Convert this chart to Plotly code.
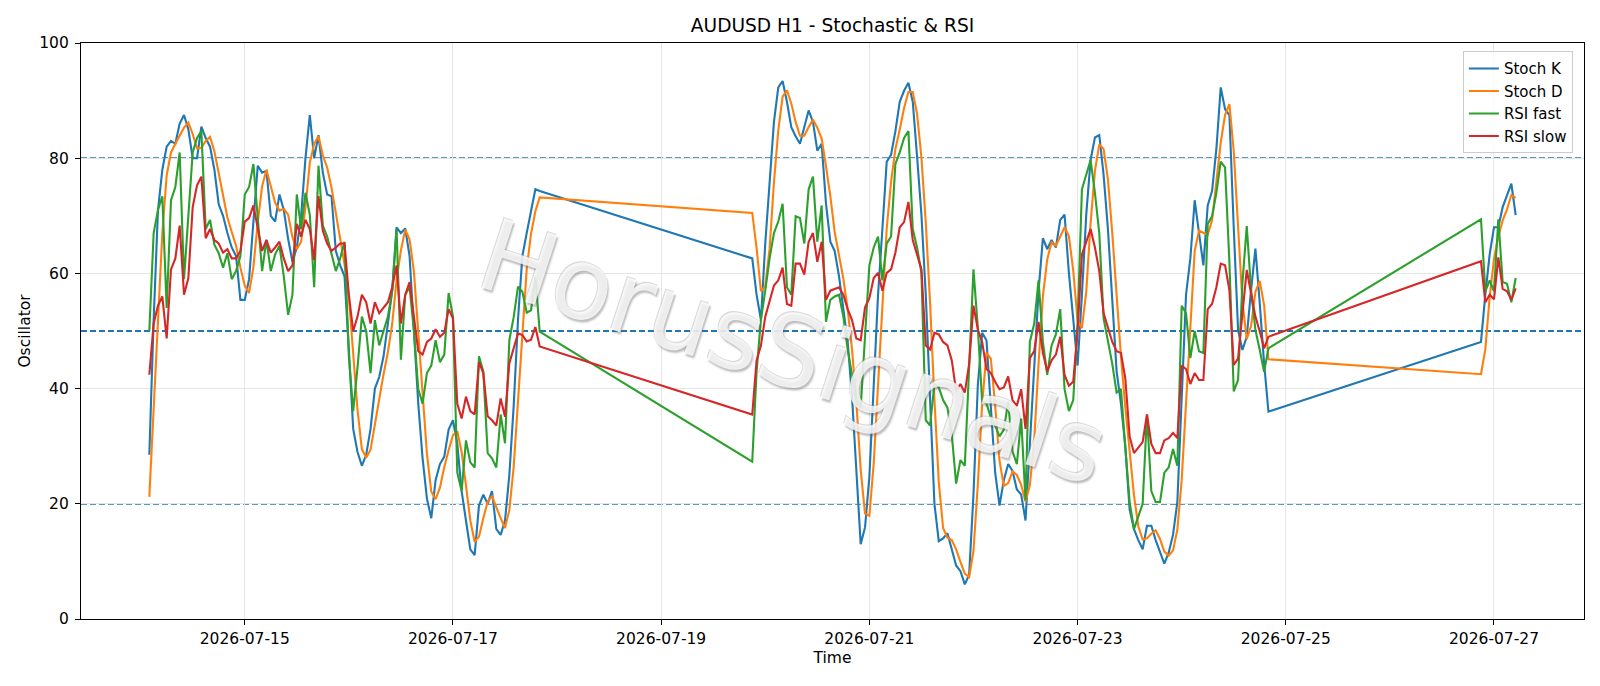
import pandas as pd
import plotly.graph_objects as go

# ---------------- data (hourly, three trading segments) ----------------
segment_bounds = [
    ("2026-07-14 02:00", "2026-07-17 20:00"),
    ("2026-07-19 21:00", "2026-07-24 20:00"),
    ("2026-07-26 21:00", "2026-07-27 05:00"),
]

stoch_k = [
    # segment 1
    28.5, 52, 71, 78, 82, 83, 82.5, 86, 87.5, 85,
    80, 80, 85.5, 83.5, 82, 78, 72, 70, 67, 64.5,
    63, 55.4, 55.4, 59, 69, 78.7, 77.5, 77.8, 70, 69,
    73.7, 71, 66, 62, 64.5, 70, 80, 87.5, 80, 84,
    77.5, 73.7, 73.4, 63.9, 61.4, 59.5, 46.8, 33, 29, 26.6,
    28.5, 33, 40, 42, 45.6, 51.3, 57, 68, 67, 67.8,
    63, 50, 37.4, 27.9, 20.9, 17.5, 24.1, 26.9, 28.2, 32.9,
    34.5, 30.4, 22.2, 17.1, 12.1, 11.1, 19.7, 21.6, 20, 22.2,
    15.6, 14.6, 17.1, 25, 37, 52, 63, 67, 70.7, 74.6,
    74.3,
    # segment 2
    62.6, 56.3, 51.9, 65.2, 75.9, 86.3, 92.3, 93.4, 89.8, 85.4,
    83.8, 82.5, 85.4, 88.3, 86.3, 81.3, 82.5, 72.1, 65.5, 63.9,
    59.5, 53.8, 48.1, 38.6, 26, 13, 15.9, 24.7, 40.5, 56.3,
    67.7, 79.4, 80.6, 84.7, 89.8, 91.7, 93.1, 89.8, 80.3, 70.2,
    56.3, 38, 20, 13.5, 14, 14.9, 12.1, 9.3, 8.3, 6,
    7.7, 21.6, 40.5, 49.7, 48.4, 37.4, 25.4, 19.7, 24.1, 26.9,
    25.7, 22.5, 21.6, 17.1, 31, 44.9, 56.9, 66.1, 64.2, 65.8,
    64.5, 69.3, 70.2, 60.1, 51.3, 44, 56.3, 70.2, 79.7, 83.6,
    84, 77.1, 67.7, 56.3, 43, 37.4, 30, 19, 15.6, 13.7,
    12.1, 16.2, 16.2, 13.7, 11.8, 9.6, 11.5, 14.6, 20.3, 37.4,
    56.3, 62.6, 72.7, 67, 61.4, 71.8, 74.3, 81.6, 92.3, 88.5,
    87.5, 68, 50.2, 46.7, 49, 57.1, 64.3, 54.8, 44.4, 36,
    # segment 3
    48.1, 56.3, 63.3, 68, 68, 71.5, 73.7, 75.6, 70.1,
]

stoch_d = [
    # segment 1
    21.2, 37, 50.5, 67, 77, 81, 82.5, 83.8, 85.3, 86.2,
    84.2, 81.7, 81.8, 83, 83.7, 81.2, 77.3, 73.3, 69.7, 67.2,
    64.8, 61, 57.9, 56.6, 61.1, 68.9, 75.1, 78, 75.1, 72.3,
    70.9, 71.2, 70.2, 66.3, 64.2, 65.5, 71.5, 79.2, 82.5, 83.8,
    80.5, 78.4, 74.9, 70.3, 66.2, 61.6, 55.9, 46.4, 36.3, 29.5,
    28, 29.4, 33.8, 38.3, 42.5, 46.3, 51.3, 58.8, 64, 67.6,
    65.9, 60.3, 50.1, 38.4, 28.7, 22.1, 20.8, 22.8, 26.4, 29.3,
    31.9, 32.6, 29, 23.2, 17.1, 13.4, 14.3, 17.5, 20.4, 21.3,
    19.3, 17.5, 15.8, 18.9, 26.4, 38, 50.7, 60.7, 66.9, 70.8,
    73.2,
    # segment 2
    70.5, 64.4, 56.9, 57.8, 64.3, 75.8, 84.8, 90.7, 91.8, 89.5,
    86.3, 83.9, 83.9, 85.4, 86.7, 85.3, 83.4, 78.6, 73.4, 67.2,
    63, 59.1, 53.8, 46.8, 37.6, 25.9, 18.3, 17.9, 27, 40.5,
    54.8, 67.8, 75.9, 81.6, 85, 88.7, 91.5, 91.5, 87.7, 80.1,
    68.9, 54.8, 38.1, 23.8, 15.8, 14.1, 13.7, 12.1, 9.9, 7.9,
    7.3, 11.8, 23.3, 37.3, 46.2, 45.2, 37.1, 27.5, 23.1, 23.6,
    25.6, 25, 23.3, 20.4, 23.2, 31, 44.3, 56, 62.4, 65.4,
    64.8, 66.5, 68, 66.5, 60.5, 51.8, 50.5, 56.8, 68.7, 77.8,
    82.4, 81.6, 76.3, 67, 55.7, 45.6, 36.8, 28.8, 21.5, 16.1,
    13.8, 14, 14.8, 15.4, 13.9, 11.7, 11, 11.9, 15.5, 24.1,
    38, 52.1, 63.9, 67.4, 67, 66.7, 69.2, 75.9, 82.7, 87.5,
    89.4, 81.3, 68.6, 55, 48.6, 50.9, 56.8, 58.7, 54.5, 45.1,
    # segment 3
    42.5, 46.8, 55.9, 62.5, 66.4, 69.2, 71.1, 73.6, 73.1,
]

rsi_fast = [
    # segment 1
    50, 67, 71, 73.4, 54, 72.7, 75, 81, 59, 70,
    81, 83.5, 84.7, 67.7, 69.3, 65, 63.5, 61, 63.5, 59,
    60.4, 63, 73.7, 75, 79, 69.6, 60.4, 65.8, 60.4, 63.3,
    64.8, 59.5, 52.8, 56.3, 73.7, 67.7, 74, 70.2, 57.6, 78.7,
    68.3, 66.4, 63.5, 60.4, 62.6, 65.5, 45.6, 36.1, 43.7, 52.5,
    50, 42.7, 51.9, 47.5, 50, 52.5, 57, 67.7, 45, 56.3,
    57.6, 50, 39.9, 37.4, 42.7, 44, 48.4, 44.6, 45.9, 56.6,
    52.5, 25.4, 22.2, 31, 27.2, 26.3, 45.6, 43, 28.8, 27.9,
    26.3, 35.5, 30.5, 48.4, 52.4, 57.7, 56.8, 53.2, 53.6, 59.4,
    49.9,
    # segment 2
    27.3, 43, 52, 57, 62.6, 67, 69, 72.1, 57.6, 56.3,
    69.9, 69.6, 65.2, 74.6, 76.8, 65.5, 71.8, 51.6, 55.4, 56,
    56.3, 52.5, 46.8, 42.4, 38, 36.7, 50, 61.4, 64.5, 66.4,
    58.8, 65.2, 66.4, 79, 81, 83.5, 84.7, 67.7, 64.5, 60.1,
    34.5, 33.6, 40.8, 40.2, 38, 36.7, 32, 23.5, 27.6, 26.6,
    43.7, 60.7, 50.6, 37.7, 37.4, 35, 33.6, 31.7, 32.9, 37.7,
    29.1, 26.9, 34.8, 20.6, 48.1, 51.3, 58.8, 48.1, 42.4, 47.5,
    49.4, 53.8, 39.9, 36.1, 38, 51.3, 74.6, 77.1, 79.7, 74,
    67, 52.2, 48.1, 44.3, 39.3, 39.9, 29.8, 20.3, 15.6, 17.8,
    20, 35.5, 22.2, 20.3, 20.3, 25.4, 26.3, 29.5, 26.6, 54.4,
    53.1, 45.3, 50, 46.5, 46.2, 68.6, 69.9, 74, 79.4, 78.4,
    62, 39.5, 41.5, 58.3, 68.2, 57.1, 50.2, 46.7, 42.9, 47,
    # segment 3
    69.4, 56.9, 58.8, 56.9, 69.4, 58.5, 58.2, 55, 59.2,
]

rsi_slow = [
    # segment 1
    42.4, 51.3, 54.4, 56, 48.7, 60.7, 62.6, 68.3, 56.3, 59.2,
    71.5, 75.3, 76.8, 66.1, 67.7, 65.8, 65.2, 63.6, 64.2, 62.6,
    62.6, 63.9, 69, 69.6, 71.8, 67.7, 63.9, 65.8, 63.6, 64.5,
    65.5, 62.6, 60.4, 61.4, 68.6, 66.4, 69.3, 67.7, 62.3, 73.4,
    67.4, 65.2, 63.9, 64.5, 65.2, 65.2, 56.3, 50, 52.5, 56.3,
    55, 51.3, 55, 53.1, 54.1, 55, 57.6, 61.4, 51.3, 56.3,
    58.5, 52.5, 46.5, 45.9, 48.1, 48.7, 50.3, 49, 49.7, 53.8,
    52.2, 37.4, 34.8, 38.6, 36.1, 35.5, 44.6, 42.7, 35.2, 34.5,
    33.6, 38.3, 35.1, 44.4, 47, 49.6, 49.3, 48.2, 48.5, 50.7,
    47.3,
    # segment 2
    35.5, 44.9, 47.5, 52.5, 55, 57.9, 58.8, 61, 54.7, 54.4,
    61.7, 61.7, 59.8, 65.5, 67, 62, 65.5, 55.4, 57, 57.3,
    57.6, 56.3, 53.8, 51.9, 48.7, 48.4, 54.1, 55.7, 59.2, 60.1,
    57, 60.1, 60.7, 63.6, 68, 68.9, 72.4, 65.8, 63.3, 60.7,
    47.5, 46.8, 49.7, 49.4, 48.1, 47.5, 44.9, 39.6, 40.8, 39.3,
    44.3, 54.4, 50.3, 48.1, 43.4, 42.7, 41.2, 39.9, 40.2, 42.1,
    38, 37, 39.9, 33, 45.3, 46.5, 51.6, 46.2, 43, 44.9,
    45.9, 49, 42.4, 40.5, 41.2, 50, 63.3, 65.5, 67.7, 64.5,
    60.4, 53.1, 50.6, 48.1, 46.5, 46.2, 41.8, 31.7, 28.8, 29.8,
    30.7, 35.5, 30.4, 28.8, 28.8, 31, 31.4, 32.3, 31.4, 44,
    43.4, 40.8, 42.7, 41.5, 41.5, 53.8, 54.7, 57.6, 61.7, 61.4,
    57.1, 44.1, 45.2, 53, 60.6, 56.5, 52.5, 49.9, 47, 49,
    # segment 3
    62.1, 55, 56.3, 55.5, 62.8, 57.3, 56.9, 55.4, 57.4,
]

levels = [20, 50, 80]
series_names = ["Stoch K", "Stoch D", "RSI fast", "RSI slow"]
series_colors = ["#1f77b4", "#ff7f0e", "#2ca02c", "#d62728"]
x_range = ["2026-07-13 10:15", "2026-07-27 20:45"]
title_text = "AUDUSD H1 - Stochastic & RSI"
watermark_text = "HorusSignals"

# ---------------- build ----------------
times = []
for start, end in segment_bounds:
    times += list(pd.date_range(start, end, freq="h"))

for s in (stoch_k, stoch_d, rsi_fast, rsi_slow):
    assert len(s) == len(times), (len(s), len(times))

FONT = "DejaVu Sans"
fig = go.Figure()

for lv in levels:
    fig.add_hline(y=lv, line=dict(color="#1f77b4", width=1.8, dash="6px,3px"), layer="below")

for name, vals, col in zip(series_names, [stoch_k, stoch_d, rsi_fast, rsi_slow], series_colors):
    fig.add_trace(go.Scatter(x=times, y=vals, mode="lines", name=name,
                             line=dict(color=col, width=2.1)))

shadow = "2px 2px 2px rgba(90,90,90,0.5), -1px -1px 0 rgba(160,160,160,0.5)"
fig.add_annotation(text=watermark_text, xref="paper", yref="paper", x=0.474, y=0.462,
                   showarrow=False, textangle=18,
                   font=dict(family=FONT, size=100, color="rgba(255,255,255,0.8)",
                             shadow=shadow))

axis_common = dict(showline=True, linecolor="black", linewidth=1.2, mirror=True,
                   ticks="outside", ticklen=5, tickwidth=1.1, tickcolor="black",
                   showgrid=True, gridcolor="#e6e6e6", gridwidth=1, zeroline=False,
                   tickfont=dict(family=FONT, size=15.5, color="black"))

fig.update_layout(
    width=1600, height=686,
    margin=dict(l=81, r=16, t=43, b=67),
    paper_bgcolor="white", plot_bgcolor="white",
    font=dict(family=FONT, size=15.5, color="black"),
    title=dict(text=title_text, x=0.5, xref="paper", xanchor="center",
               y=1 - 25.5 / 686, yref="container", yanchor="middle",
               font=dict(family=FONT, size=18.6, color="black")),
    xaxis=dict(type="date", range=x_range, tick0="2026-07-15", dtick=2 * 86400000,
               tickformat="%Y-%m-%d",
               title=dict(text="Time", standoff=5, font=dict(family=FONT, size=15.5)),
               **axis_common),
    yaxis=dict(range=[0, 100], tick0=0, dtick=20, ticklabelstandoff=3,
               title=dict(text="Oscillator", standoff=4, font=dict(family=FONT, size=15.5)),
               **axis_common),
    legend=dict(x=0.9926, xanchor="right", y=0.9856, yanchor="top",
                bgcolor="rgba(255,255,255,0.8)", bordercolor="#cccccc", borderwidth=1,
                font=dict(family=FONT, size=15, color="black")),
    showlegend=True,
)

fig.write_html("out.html", include_plotlyjs=True, config={"displayModeBar": False},
               post_script="document.body.style.margin='0';")
